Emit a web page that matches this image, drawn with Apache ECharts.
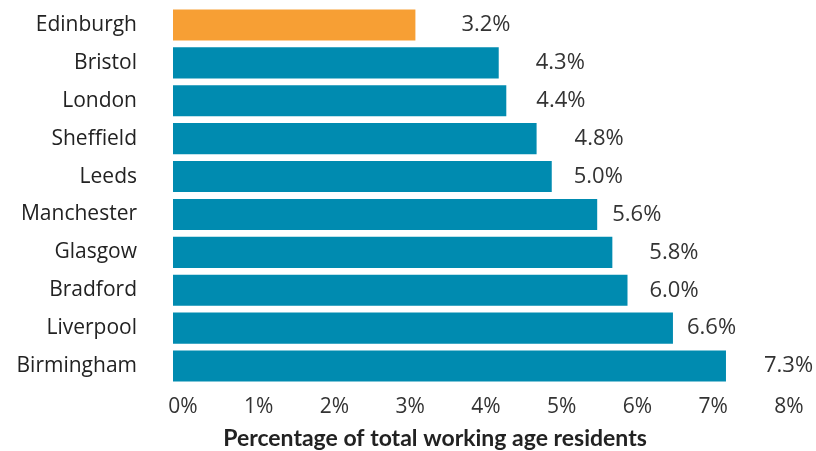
<!DOCTYPE html>
<html>
<head>
<meta charset="utf-8">
<script src="https://cdn.jsdelivr.net/npm/echarts@6/dist/echarts.min.js"></script>
<style>html,body{margin:0;padding:0;background:#fff}#c{width:816px;height:451px}</style>
</head>
<body>
<div id="c"></div>
<script>
const cities = ["Edinburgh","Bristol","London","Sheffield","Leeds","Manchester","Glasgow","Bradford","Liverpool","Birmingham"];
const values = [3.2, 4.3, 4.4, 4.8, 5.0, 5.6, 5.8, 6.0, 6.6, 7.3];
const highlightCity = "Edinburgh";
const xTicks = [0,1,2,3,4,5,6,7,8];
const axisTitle = "Percentage of total working age residents";

// label gap (px) between bar end and value label, as in the reference
const labelGaps = [46, 37, 30, 38, 22, 15, 37, 22, 14, 38];

const ORANGE = "#F79F34";
const TEAL = "#008BB0";
const FONT = "Open Sans";

const chart = echarts.init(document.getElementById('c'), null, {renderer:'canvas'});
chart.setOption({
  animation:false,
  backgroundColor:'#fff',
  grid:{left:173, right:37, top:6, bottom:66, containLabel:false, outerBoundsMode:'none'},
  xAxis:{
    type:'value', min:xTicks[0], max:xTicks[xTicks.length-1], interval:1,
    axisLine:{show:false}, axisTick:{show:false}, splitLine:{show:false},
    axisLabel:{formatter:'{value}%', fontFamily:FONT, fontSize:21, color:'#333', margin:12, padding:[0,0,0,20]},
    name:axisTitle, nameLocation:'middle', nameGap:42,
    nameTextStyle:{fontFamily:'Lato', fontWeight:'bold', fontSize:23, color:'#222', padding:[0,82,0,0]}
  },
  yAxis:{
    type:'category', data:cities, inverse:true,
    axisLine:{show:false}, axisTick:{show:false},
    axisLabel:{fontFamily:FONT, fontSize:21, color:'#222', margin:36, padding:[4,0,0,0]}
  },
  series:[{
    type:'bar', barCategoryGap:'18%',
    data: values.map((v,i)=>({
      value:v,
      itemStyle:{color: cities[i]===highlightCity ? ORANGE : TEAL},
      label:{distance: labelGaps[i]}
    })),
    label:{show:true, position:'right', fontFamily:FONT, fontSize:22, color:'#333', padding:[5,0,0,0],
      formatter:p=>p.value.toFixed(1)+'%'}
  }]
});
</script>
</body>
</html>
